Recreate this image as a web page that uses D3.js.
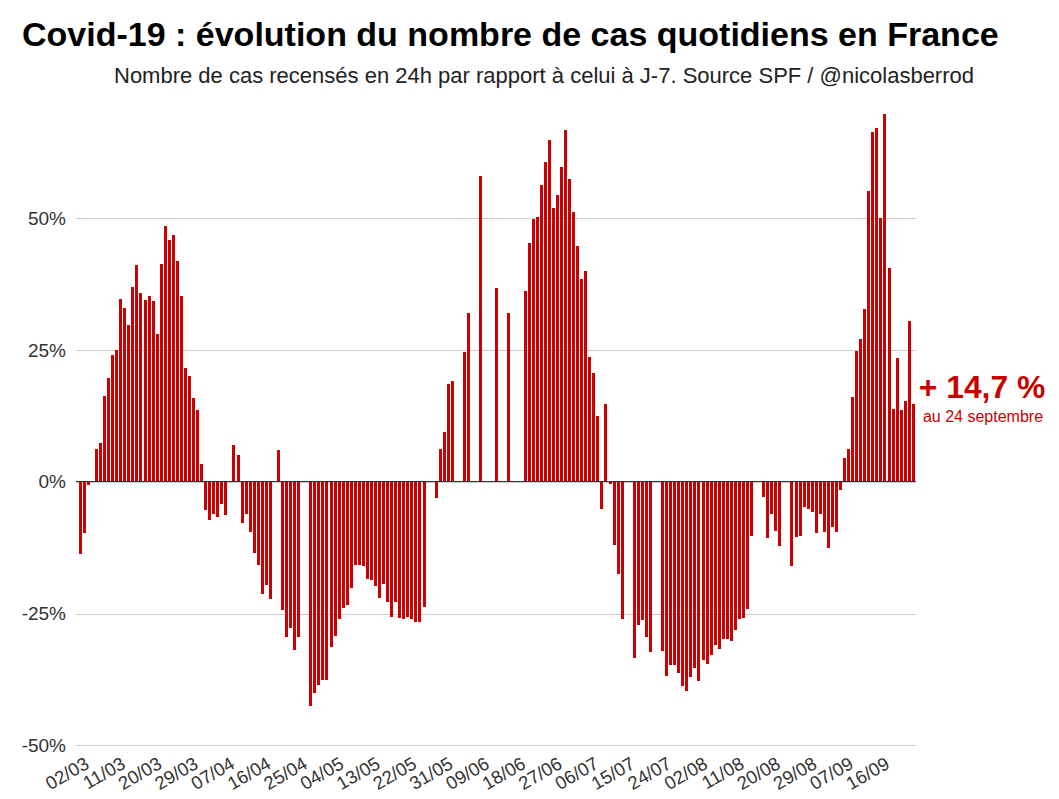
<!DOCTYPE html>
<html><head><meta charset="utf-8">
<script src="https://cdn.jsdelivr.net/npm/d3@7"></script>
<style>
html,body{margin:0;padding:0;background:#fff}
svg{display:block}
text{font-family:"Liberation Sans",Arial,sans-serif}
</style></head><body>
<script>
const titleText = "Covid-19 : évolution du nombre de cas quotidiens en France";
const subtitleText = "Nombre de cas recensés en 24h par rapport à celui à J-7. Source SPF / @nicolasberrod";
const calloutBig = "+ 14,7 %";
const calloutSmall = "au 24 septembre";
const startDay = "2020-03-02";
const yTicks = [-50, -25, 0, 25, 50];
const xTickLabels = ["02/03","11/03","20/03","29/03","07/04","16/04","25/04","04/05","13/05","22/05","31/05","09/06","18/06","27/06","06/07","15/07","24/07","02/08","11/08","20/08","29/08","07/09","16/09"];
// Daily change (%) from 02/03 to 24/09; null = no value published
const values = [
-13.7,-9.7,-0.6,null,6.3,7.4,16.3,19.7,24.1,25.0,34.7,33.0,29.8,37.0,41.2,35.9,34.5,35.3,34.3,28.1,
41.4,48.6,45.9,46.9,41.9,35.3,21.6,20.1,15.9,13.7,3.4,-5.3,-7.2,-6.1,-6.6,-4.2,-6.3,null,7.0,5.1,
-7.8,-6.1,-9.5,-13.5,-15.7,-21.3,-19.5,-22.2,null,6.1,-24.3,-29.4,-27.7,-31.9,-29.4,null,null,-42.5,-40.0,-38.5,
-37.6,-37.6,-31.3,-29.2,-26.0,-23.9,-23.3,-20.1,-15.7,-15.7,-15.9,-18.4,-18.6,-19.7,-22.0,-19.4,-22.8,-25.6,-22.8,-25.8,
-26.0,-25.6,-26.0,-26.6,-26.6,-23.7,null,null,-3.0,6.3,9.5,18.6,19.2,null,null,24.7,32.1,null,null,58.1,
null,null,null,36.8,null,null,32.1,null,null,null,36.2,45.4,49.9,50.3,56.4,60.7,64.9,52.0,54.5,59.8,
66.8,57.5,51.2,44.8,38.5,40.0,23.7,20.7,12.5,-5.1,14.8,-0.5,-12.0,-17.5,-26.0,null,null,-33.4,-27.1,-26.2,
-29.4,-32.3,null,null,-32.1,-36.8,-34.7,-34.7,-36.2,-38.7,-39.7,-37.0,-35.3,-37.8,-33.8,-34.5,-32.8,-30.9,-31.7,-29.8,
-29.8,-30.2,-28.1,-26.0,-25.8,-24.1,-10.2,null,null,-2.8,-10.6,-6.1,-9.3,-12.1,null,null,-15.9,-10.4,-10.2,-4.7,
-5.1,-5.7,-9.7,-6.1,-9.5,-12.5,-8.5,-9.5,-1.5,4.6,6.3,16.1,24.9,27.1,32.8,55.2,66.4,67.2,50.1,69.8,
40.6,13.9,23.5,13.7,15.4,30.6,14.7];

const W = 1059, H = 799;
const fmtDay = d3.timeFormat("%d/%m");
const start = d3.timeParse("%Y-%m-%d")(startDay);
const days = values.map((_, i) => d3.timeDay.offset(start, i));

const svg = d3.select("body").append("svg").attr("width", W).attr("height", H);

const x = d3.scaleBand().domain(days.map(fmtDay)).range([78.3, 915.3]).paddingInner(0.26).paddingOuter(0.13);
const y = d3.scaleLinear().domain([-50, 50]).range([745.3, 218.3]);

svg.append("text").attr("x", 22).attr("y", 46).attr("font-size", 34).attr("font-weight", 700).attr("fill", "#000").text(titleText);
svg.append("text").attr("x", 114).attr("y", 83).attr("font-size", 22).attr("fill", "#222").text(subtitleText);

// y axis and gridlines
const yAxis = svg.append("g").attr("transform", "translate(76,0)")
  .call(d3.axisLeft(y).tickValues(yTicks).tickSize(-839.5).tickPadding(10).tickFormat(d => d + "%"));
yAxis.select(".domain").remove();
yAxis.selectAll("line").attr("stroke", "#cccccc").attr("stroke-width", 1).attr("shape-rendering", "crispEdges");
yAxis.selectAll("text").attr("font-size", 19).attr("fill", "#333").attr("font-family", '"Liberation Sans"');

// bars, snapped to whole pixels like the original renderer
const barW = Math.round(x.bandwidth());
svg.append("g").attr("shape-rendering", "crispEdges").selectAll("rect")
  .data(values.map((v, i) => ({v, k: fmtDay(days[i])})).filter(d => d.v !== null))
  .join("rect")
  .attr("x", d => Math.round(x(d.k)))
  .attr("width", barW)
  .attr("y", d => y(Math.max(0, d.v)))
  .attr("height", d => Math.abs(y(d.v) - y(0)))
  .attr("fill", "#cc0000");

// zero line
svg.append("line").attr("x1", 76).attr("x2", 915.5).attr("y1", y(0)).attr("y2", y(0)).attr("stroke", "#333").attr("stroke-width", 1).attr("shape-rendering", "crispEdges");

// x axis
const xAxis = svg.append("g").attr("transform", "translate(0,745.3)")
  .call(d3.axisBottom(x).tickValues(xTickLabels).tickSize(0));
xAxis.select(".domain").remove();
xAxis.selectAll("text")
  .attr("font-size", 18.5).attr("fill", "#333").attr("font-family", '"Liberation Sans"')
  .attr("text-anchor", "end").attr("dy", null).attr("y", 0)
  .attr("transform", "translate(10,22) rotate(-30)");

// callout
svg.append("text").attr("x", 982).attr("y", 398).attr("text-anchor", "middle").attr("font-size", 31.8).attr("font-weight", 700).attr("fill", "#cc0000").text(calloutBig);
svg.append("text").attr("x", 983).attr("y", 422).attr("text-anchor", "middle").attr("font-size", 16).attr("fill", "#cc0000").text(calloutSmall);
</script>
</body></html>
